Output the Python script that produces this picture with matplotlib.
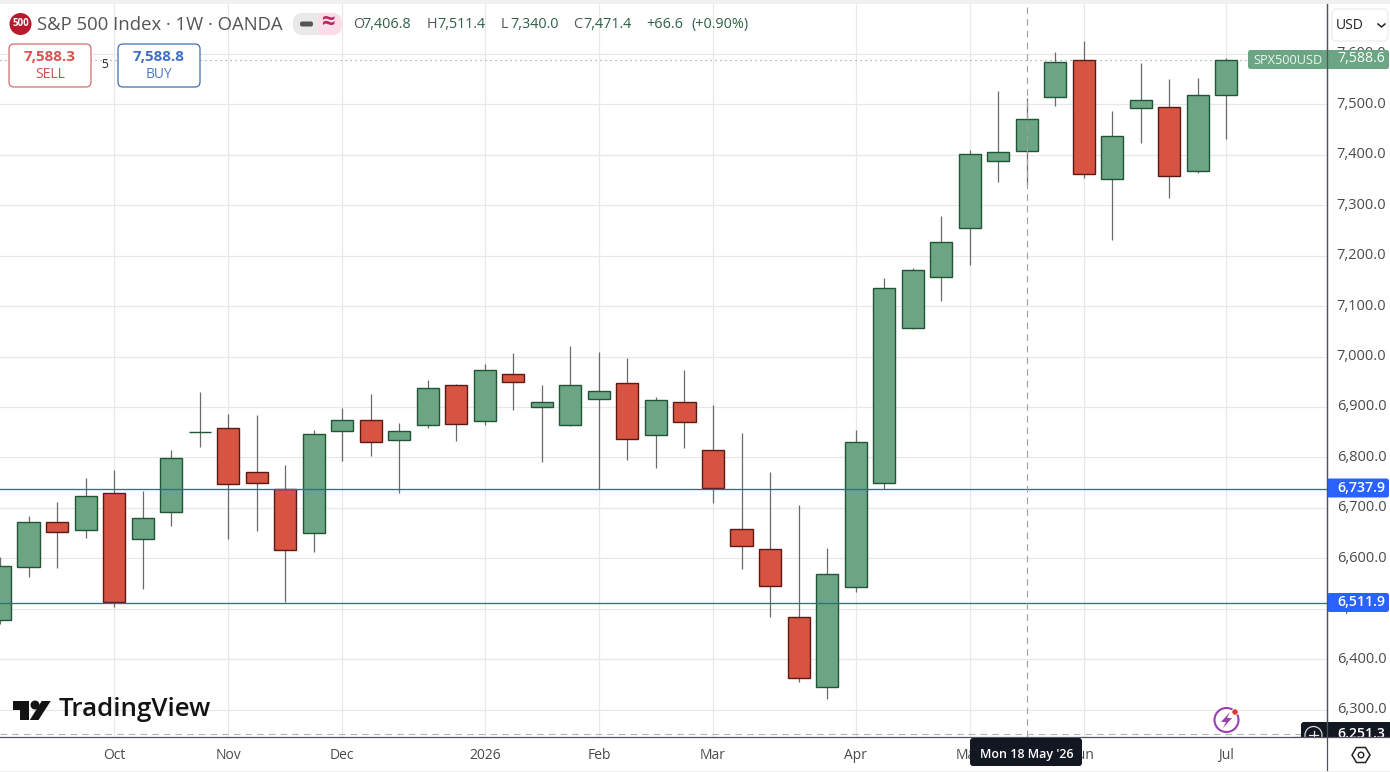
import matplotlib
matplotlib.use("Agg")
import matplotlib.pyplot as plt
from matplotlib.patches import Circle, FancyBboxPatch, Polygon, Rectangle
from matplotlib.transforms import ScaledTranslation

plt.rcParams['font.family'] = ['Open Sans', 'DejaVu Sans']

# weekly candles, oldest first
opens = [6478, 6583.5, 6671.5, 6655.6, 6728.9, 6637.8, 6691.3, 6849.5, 6857.7, 6770.5, 6736.9,
         6649.7, 6851.8, 6873.6, 6834, 6863.7, 6943, 6871.6, 6964.8, 6900.6, 6863.7, 6915.2,
         6946.9, 6843.9, 6909.3, 6814.1, 6657.6, 6617.9, 6483.2, 6344.5, 6542.6, 6748.7,
         7055.9, 7157, 7254.1, 7386.9, 7406.8, 7513.7, 7587, 7351.2, 7491.9, 7493.9, 7367, 7517.6]
highs = [6602.7, 6683.9, 6711.7, 6759.2, 6775.1, 6733.5, 6814.7, 6929.1, 6886.1, 6884.1, 6785,
         6854.4, 6898, 6925.7, 6868.2, 6953.5, 6945.5, 6985.2, 7007, 6943, 7020.8, 7009,
         6997.1, 6919.2, 6973.3, 6903.9, 6848.4, 6771.1, 6705.7, 6620.5, 6854.4, 7155.6,
         7175.4, 7278.5, 7408.7, 7526.2, 7511.4, 7603.5, 7625.3, 7486.5, 7581.7, 7549.9, 7551.9, 7591]
lows = [6470, 6563.7, 6581.5, 6640.9, 6504.2, 6539.9, 6664.7, 6821.3, 6639, 6654.8, 6513.5,
        6613.2, 6793.5, 6803.5, 6730.1, 6858.9, 6833.2, 6864.3, 6894.6, 6791.6, 6863.2, 6736.9,
        6795.5, 6779.7, 6819.3, 6710.3, 6579.5, 6484.4, 6355.6, 6321.9, 6533.9, 6736.9,
        7055, 7110.6, 7181.3, 7346.4, 7340, 7497, 7354.3, 7231.5, 7423.7, 7314.7, 7364.3, 7431.6]
closes = [6584, 6671.5, 6652.8, 6723, 6513.5, 6679.4, 6798.3, 6850, 6746.8, 6748.7, 6616,
          6845.8, 6873.6, 6830, 6851.8, 6937, 6865.7, 6972.7, 6948.9, 6909.3, 6943, 6931,
          6835.9, 6913.2, 6869.6, 6738.8, 6623.9, 6544.6, 6362.3, 6568.4, 6830, 7135.2,
          7170.9, 7226.3, 7400.7, 7404.7, 7471.4, 7583, 7361.1, 7436.4, 7507.7, 7357.1, 7517.6, 7588.6]

month_pos = [4, 8, 12, 17, 21, 25, 30, 34, 38, 43]
month_labels = ['Oct', 'Nov', 'Dec', '2026', 'Feb', 'Mar', 'Apr', 'May', 'Jun', 'Jul']
price_ticks = [6300, 6400, 6500, 6600, 6700, 6800, 6900, 7000, 7100, 7200, 7300, 7400, 7500, 7600]

support_levels = [6737.9, 6511.9]
last_price = 7588.6
scale_low = 6251.3
cross_index = 36

GREEN, GREEN_EDGE = '#6ba583', '#225437'
RED, RED_EDGE = '#d75442', '#5b1a13'
BLUE_LINE = '#2f66b5'
BLUE_TAG = '#2962ff'
GRID = '#e8e8e8'
AXIS = '#50535e'
W, H = 1390, 772

fig = plt.figure(figsize=(W / 100, H / 100), dpi=100, facecolor='white')

# main pane
ax = fig.add_axes([0, (H - 737) / H, 1327 / W, (737 - 4) / H])
ax.set_xlim(0, 1327 / 28.52)
ax.set_ylim(6246, 7698.6)
ax.set_axisbelow(True)
ax.grid(True, color=GRID, lw=0.9)

x = list(range(len(opens)))
up = [c >= o for o, c in zip(opens, closes)]
ax.vlines(x, lows, highs, color='#6a6a6a', lw=0.9, zorder=2)
ax.bar(x, [abs(c - o) for o, c in zip(opens, closes)],
       bottom=[min(o, c) for o, c in zip(opens, closes)], width=0.775,
       color=[GREEN if u else RED for u in up],
       edgecolor=[GREEN_EDGE if u else RED_EDGE for u in up], linewidth=1.0, zorder=3)

for level in support_levels:
    ax.axhline(level, color=BLUE_LINE, lw=0.95, zorder=4)
ax.axhline(last_price, color='#8a8f8c', lw=0.8, ls=(0, (1, 3.5)), zorder=1.5)
ax.axhline(scale_low, color='#b5b5b5', lw=0.8, ls=(0, (6, 4.5)), zorder=1.5)
ax.axvline(cross_index, color='#a0a0a0', lw=0.8, ls=(0, (6, 4.5)), zorder=4)

ax.set_xticks(month_pos, month_labels)
ax.set_yticks(price_ticks, [f'{p:,.1f}' for p in price_ticks])
ax.yaxis.tick_right()
ax.tick_params(axis='both', length=0, labelsize=10, labelcolor='#4a4a4a')
ax.tick_params(axis='x', pad=8)
ax.tick_params(axis='y', pad=7, labelsize=10.5)
lift = ScaledTranslation(0, 2 / 100, fig.dpi_scale_trans)
for lab in ax.get_yticklabels():
    lab.set_transform(lab.get_transform() + lift)
    lab.set_fontweight(500)
for side in ['left', 'top']:
    ax.spines[side].set_visible(False)
for side in ['right', 'bottom']:
    ax.spines[side].set_color(AXIS)
    ax.spines[side].set_linewidth(0.9)

# toolbar, tags and buttons use a pixel-sized layer on top
ui = fig.add_axes([0, 0, 1, 1], zorder=10)
ui.set_xlim(0, W)
ui.set_ylim(H, 0)
ui.axis('off')


def box(x0, y0, x1, y1, fc, ec='none', lw=0.9, r=3, z=5):
    p = FancyBboxPatch((x0 + r, y0 + r), x1 - x0 - 2 * r, y1 - y0 - 2 * r,
                       boxstyle=f'round,pad={r},rounding_size={r}', fc=fc, ec=ec, lw=lw, zorder=z)
    ui.add_patch(p)


def label(px, py, s, size=10, color='#333333', ha='left', weight='normal', z=6):
    ui.text(px, py, s, fontsize=size, color=color, ha=ha, va='center', fontweight=weight, zorder=z)


ui.add_patch(Rectangle((0, 0), W, 4, fc='#f0f0f0', ec='none'))
ui.add_patch(Rectangle((0, 770.5), W, 2, fc='#efefef', ec='none'))

# header
ui.add_patch(Circle((20.5, 24), 11, fc='#b8192e', ec='none', zorder=5))
label(20.5, 24, '500', size=7, color='white', ha='center', weight='bold')
label(37, 24.5, 'S&P 500 Index · 1W · OANDA', size=13.3, color='#555555')
box(293, 13, 342, 35, '#e9e9e9', r=10)
box(318, 13, 342, 35, '#fbdce8', r=10)
ui.add_patch(Rectangle((318, 13), 8, 22, fc='#fbdce8', ec='none', zorder=5))
box(300, 21.5, 313, 26.5, '#555555', r=2, z=6)
label(329, 24, '≈', size=17, color='#b5275f', ha='center', weight='bold')

seg_x = [353, 362, 427, 437, 501, 510, 573, 583, 646, 691]
seg_s = ['O', '7,406.8', 'H', '7,511.4', 'L', '7,340.0', 'C', '7,471.4', '+66.6', '(+0.90%)']
for sx, s in zip(seg_x, seg_s):
    dim = s in 'OHLC'
    label(sx, 24.5, s, size=10.4, color='#4d5a53' if dim else '#2f6045')

# sell / buy buttons
box(9, 44, 91, 87, 'white', ec='#d2706e', r=5)
box(118, 44, 200, 87, 'white', ec='#3f6fb5', r=5)
label(50, 57, '7,588.3', size=11, color='#d9534f', ha='center', weight='bold')
label(50, 74, 'SELL', size=10, color='#c9504c', ha='center')
label(159, 57, '7,588.8', size=11, color='#3f6fc4', ha='center', weight='bold')
label(159, 74, 'BUY', size=10, color='#4f7ac4', ha='center')
label(104.5, 65, '5', size=8.6, color='#222222', ha='center')

# currency button
box(1332, 9, 1388, 41, 'white', ec='#ececec', r=5)
label(1336, 25.5, 'USD', size=10, color='#222222')
ui.plot([1378, 1381.5, 1385], [24, 27, 24], color='#222222', lw=1.1, zorder=6)

# last price tag
box(1248, 50, 1389, 69, GREEN, r=2.5)
label(1253, 60, 'SPX500USD', size=9.2, color='#eef6f1')
label(1337.5, 59, f'{last_price:,.1f}', size=10.2, color='white', weight=500)

# level tags
for level, cy in zip(support_levels, [488, 602.5]):
    box(1327, cy - 9.5, 1389, cy + 9.5, BLUE_TAG, r=2.5)
    label(1337.5, cy - 0.5, f'{level:,.1f}', size=10.2, color='white', weight=600)

# scale low tag, cut off by the time axis
box(1301, 722, 1395, 745, '#131722', r=3)
label(1337.5, 733.5, f'{scale_low:,.1f}', size=10.2, color='white', weight=600)
ui.add_patch(Circle((1313.5, 735), 8.5, fc='#131722', ec='#d8d8d8', lw=0.9, zorder=6))
ui.plot([1309, 1318], [735, 735], color='#e8e8e8', lw=0.9, zorder=6)
ui.plot([1313.5, 1313.5], [730.5, 739.5], color='#e8e8e8', lw=0.9, zorder=6)
ui.add_patch(Rectangle((1295, 737.5), 95, 33, fc='white', ec='none', zorder=7))
ui.plot([1295, 1390], [737, 737], color=AXIS, lw=0.9, zorder=8)
ui.plot([1326.5, 1326.5], [4, 770], color=AXIS, lw=0.9, zorder=8)

# settings hexagon
ui.add_patch(Polygon([(1352, 755), (1356.5, 747.5), (1365.5, 747.5), (1370, 755), (1365.5, 762.5),
                      (1356.5, 762.5)], fc='white', ec='#222222', lw=1.1, zorder=8))
ui.add_patch(Circle((1361, 755), 2.8, fc='white', ec='#222222', lw=1, zorder=9))

# crosshair date bubble
box(970, 738, 1082, 766, '#131722', r=3, z=8)
ui.text(1026.5, 754.5, "Mon 18 May '26", fontsize=9, color='white', ha='center', va='center',
        fontweight=600, zorder=9)

# alert icon
ui.add_patch(Circle((1226.5, 720), 12, fc='white', ec='#9b3fb0', lw=1.5, zorder=6))
ui.add_patch(Polygon([(1230, 712), (1221, 722), (1226, 722), (1223, 728), (1232, 718), (1227, 718)],
                     fc='#9b3fb0', ec='none', zorder=7))
ui.add_patch(Circle((1235, 712), 3.2, fc='#e53935', ec='white', lw=0.6, zorder=7))

# logo
ui.add_patch(Polygon([(13, 701), (29.3, 701), (29.3, 720), (20, 720), (20, 710), (13, 710)],
                     fc='#131313', ec='none', zorder=6))
ui.add_patch(Circle((35, 705), 4.5, fc='#131313', ec='none', zorder=6))
ui.add_patch(Polygon([(41.7, 701), (50.7, 701), (38.5, 720), (29.8, 720)], fc='#131313', ec='none', zorder=6))
label(59, 710, 'TradingView', size=18.6, color='#131313', weight=600)

fig.savefig('out.png', dpi=100)
